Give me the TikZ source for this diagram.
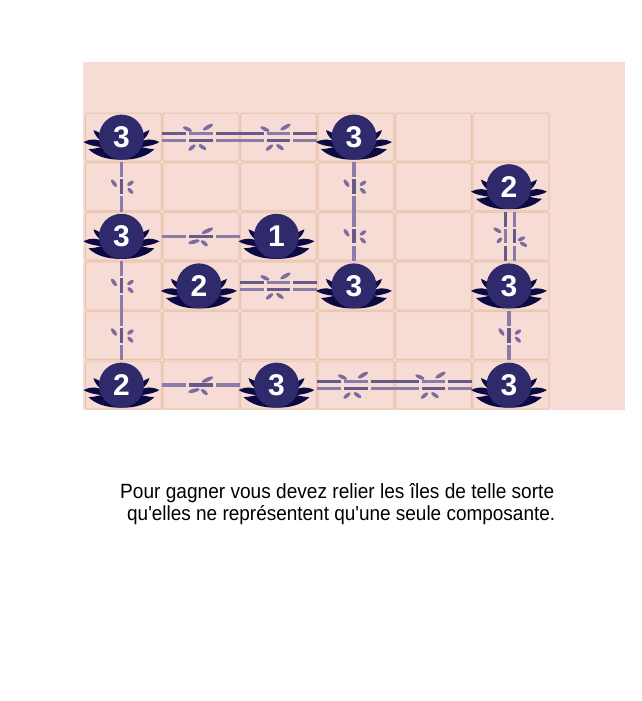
\documentclass[tikz,border=0pt]{standalone}
\usepackage{fontspec}
\usepackage{graphicx}
\setmainfont{Liberation Sans}
\usetikzlibrary{calc}
\definecolor{bgpink}{HTML}{F7DCD5}
\definecolor{cellline}{HTML}{EAC6B0}
\definecolor{islc}{HTML}{2E2A6C}
\definecolor{lotusc}{HTML}{0C0A42}
\definecolor{brl}{HTML}{8A7BA8}
\definecolor{brd}{HTML}{675A8A}
\definecolor{bleaf}{HTML}{7A6C9E}
\tikzset{
  cellbox/.style={draw=cellline, line width=1.2pt, rounded corners=2pt},
  isle/.style={circle, fill=islc, minimum size=45pt, inner sep=0pt, text=white,
    font=\fontsize{30}{30}\selectfont\bfseries},
  lotusleaf/.style={fill=lotusc},
  brlight/.style={draw=brl, line width=3.5pt},
  brdark/.style={draw=brd, line width=3.5pt},
  brlightd/.style={draw=brl, line width=3pt},
  brdarkd/.style={draw=brd, line width=3pt},
  bleafst/.style={fill=bleaf},
  txt/.style={anchor=base west, inner sep=0pt, text=black}
}
% leaf: center x, center y, angle, half length
\newcommand\bleafat[4]{\fill[bleafst, rotate around={#3:(#1,#2)}] (#1,#2) ellipse [x radius=#4, y radius=1.9];}
% horizontal single bridge in cell #1
\newcommand\hbS[1]{%
  \begin{scope}[shift={(#1)}]
    \draw[brlight] (-38.75,0) -- (-14.5,0);
    \draw[brdark] (-11.5,0) -- (12,0);
    \draw[brlight] (15,0) -- (38.75,0);
    \bleafat{6.5}{-5.5}{25}{6.5}
    \bleafat{-7}{5.5}{15}{6}
    \bleafat{3.5}{7}{-40}{4.3}
  \end{scope}}
% horizontal double bridge in cell #1
\newcommand\hbD[1]{%
  \begin{scope}[shift={(#1)}]
    \draw[brdarkd] (-38.75,-3.6) -- (-14.5,-3.6);
    \draw[brlightd] (-11.5,-3.6) -- (12,-3.6);
    \draw[brdarkd] (15,-3.6) -- (38.75,-3.6);
    \draw[brlightd] (-38.75,3.6) -- (-14.5,3.6);
    \draw[brdarkd] (-11.5,3.6) -- (12,3.6);
    \draw[brlightd] (15,3.6) -- (38.75,3.6);
    \bleafat{-13.5}{-8}{-25}{5}
    \bleafat{7}{-10}{30}{6}
    \bleafat{-9}{10.5}{40}{4.5}
    \bleafat{1.5}{10}{-35}{4.5}
  \end{scope}}
% vertical single bridge in cell #1
\newcommand\vbS[1]{%
  \begin{scope}[shift={($(#1)+(-2,0)$)}]
    \draw[brlight] (0,-24.8) -- (0,-9.5);
    \draw[brdark] (0,-7.5) -- (0,7);
    \draw[brlight] (0,9.5) -- (0,24.8);
    \bleafat{-7.5}{-3.5}{-55}{4.5}
    \bleafat{9}{-3.4}{35}{3.8}
    \bleafat{9}{4.2}{-45}{3.8}
  \end{scope}}
% vertical double bridge in cell #1
\newcommand\vbD[1]{%
  \begin{scope}[shift={($(#1)+(-1,0)$)}]
    \draw[brdarkd] (-4.2,-24.8) -- (-4.2,-9.5);
    \draw[brlightd] (-4.2,-7.5) -- (-4.2,7);
    \draw[brdarkd] (-4.2,9.5) -- (-4.2,24.8);
    \draw[brlightd] (4.2,-24.8) -- (4.2,-9.5);
    \draw[brdarkd] (4.2,-7.5) -- (4.2,7);
    \draw[brlightd] (4.2,9.5) -- (4.2,24.8);
    \bleafat{-12.5}{-6}{-30}{4.5}
    \bleafat{-10.5}{4}{45}{3.5}
    \bleafat{11.5}{2.5}{25}{4}
    \bleafat{13.5}{8}{-30}{4.2}
  \end{scope}}
% island: cell coordinate, name, number
\newcommand\islandat[3]{%
  \fill[lotusleaf, shift={($(#1)+(-2,0)$)}] (0,22.5)
    .. controls (-14,23) and (-26,19) .. (-33,12)
    .. controls (-28,12) and (-25,11) .. (-20,10)
    .. controls (-27,9) and (-33,8) .. (-38,5)
    .. controls (-30,1) and (-24,2) .. (-19,5)
    .. controls (-23,2) and (-27,-2) .. (-28,-7)
    .. controls (-20,-4) and (-15,0) .. (-10,6)
    -- (10,6)
    .. controls (15,0) and (20,-4) .. (28,-7)
    .. controls (27,-2) and (23,2) .. (19,5)
    .. controls (24,2) and (30,1) .. (38,5)
    .. controls (33,8) and (27,9) .. (20,10)
    .. controls (25,11) and (28,12) .. (33,12)
    .. controls (26,19) and (14,23) .. (0,22.5) -- cycle;
  \node[isle] (#2) at ($(#1)+(-2,0)$) {#3};}
\begin{document}
\begin{tikzpicture}[x=1pt,y=-1pt]
\useasboundingbox (0,0) rectangle (642,701);
\fill[bgpink] (83,62) rectangle (625,410);
\foreach \i in {0,...,5}{
  \foreach \j in {0,...,5}{
    \coordinate (c-\i-\j) at ({84.7+77.5*\i+38.75},{112.3+49.6*\j+24.8});
    \draw[cellbox] ({84.7+77.5*\i+0.8},{112.3+49.6*\j+0.8}) rectangle ++(75.9,48);
  }
}
% bridges
\hbD{c-1-0}\hbD{c-2-0}
\vbS{c-0-1}
\vbS{c-3-1}\vbS{c-3-2}
\hbS{c-1-2}
\vbS{c-0-3}\vbS{c-0-4}
\hbD{c-2-3}
\vbD{c-5-2}
\vbS{c-5-4}
\hbS{c-1-5}
\hbD{c-3-5}\hbD{c-4-5}
% islands
\islandat{c-0-0}{a}{3}
\islandat{c-3-0}{b}{3}
\islandat{c-5-1}{c}{2}
\islandat{c-0-2}{d}{3}
\islandat{c-2-2}{e}{1}
\islandat{c-1-3}{f}{2}
\islandat{c-3-3}{g}{3}
\islandat{c-5-3}{h}{3}
\islandat{c-0-5}{i}{2}
\islandat{c-2-5}{j}{3}
\islandat{c-5-5}{k}{3}
% text
\node[txt] (t1) at (120,498) {\resizebox{434pt}{15pt}{Pour gagner vous devez relier les îles de telle sorte}};
\node[txt] (t2) at (127,520) {\resizebox{428pt}{15pt}{qu\textquotesingle elles ne représentent qu\textquotesingle une seule composante.}};
\end{tikzpicture}
\end{document}
